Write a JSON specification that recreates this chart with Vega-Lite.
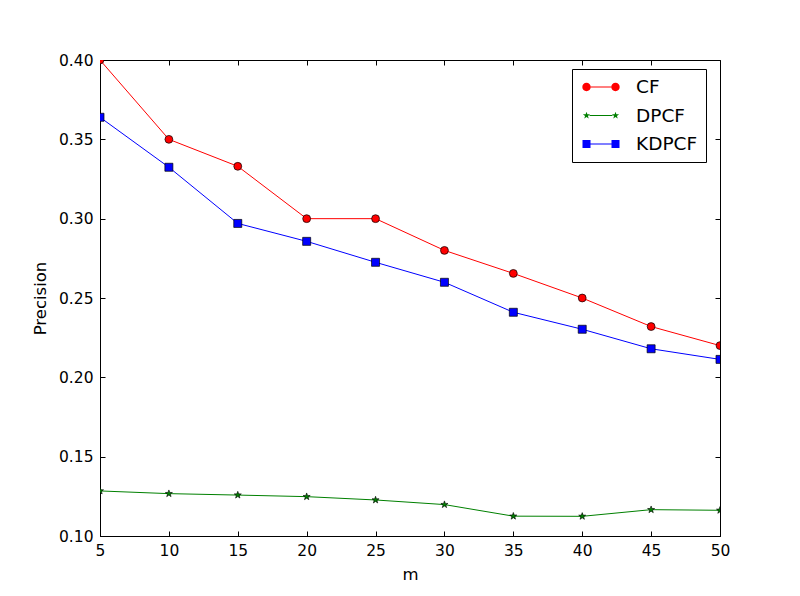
{
  "$schema": "https://vega.github.io/schema/vega-lite/v6.json",
  "autosize": "none",
  "width": 620,
  "height": 476,
  "padding": {"left": 100, "top": 60, "right": 80, "bottom": 60},
  "background": "white",
  "config": {
    "font": "DejaVu Sans",
    "view": {"stroke": "black", "strokeWidth": 1},
    "axis": {
      "grid": false,
      "domainColor": "black",
      "domainWidth": 1,
      "tickColor": "black",
      "tickWidth": 1,
      "tickSize": -5,
      "labelColor": "black",
      "labelFont": "DejaVu Sans",
      "labelFontSize": 15.5,
      "labelFlush": false,
      "labelOverlap": false,
      "titleColor": "black",
      "titleFont": "DejaVu Sans",
      "titleFontSize": 16.5,
      "titleFontWeight": "normal"
    }
  },
  "data": {
    "values": [
      {"series": "CF", "m": 5, "precision": 0.400},
      {"series": "CF", "m": 10, "precision": 0.350},
      {"series": "CF", "m": 15, "precision": 0.333},
      {"series": "CF", "m": 20, "precision": 0.300},
      {"series": "CF", "m": 25, "precision": 0.300},
      {"series": "CF", "m": 30, "precision": 0.280},
      {"series": "CF", "m": 35, "precision": 0.2655},
      {"series": "CF", "m": 40, "precision": 0.250},
      {"series": "CF", "m": 45, "precision": 0.232},
      {"series": "CF", "m": 50, "precision": 0.220},
      {"series": "DPCF", "m": 5, "precision": 0.1284},
      {"series": "DPCF", "m": 10, "precision": 0.1267},
      {"series": "DPCF", "m": 15, "precision": 0.1258},
      {"series": "DPCF", "m": 20, "precision": 0.1248},
      {"series": "DPCF", "m": 25, "precision": 0.1227},
      {"series": "DPCF", "m": 30, "precision": 0.1198},
      {"series": "DPCF", "m": 35, "precision": 0.1125},
      {"series": "DPCF", "m": 40, "precision": 0.1124},
      {"series": "DPCF", "m": 45, "precision": 0.1166},
      {"series": "DPCF", "m": 50, "precision": 0.1162},
      {"series": "KDPCF", "m": 5, "precision": 0.3639},
      {"series": "KDPCF", "m": 10, "precision": 0.3324},
      {"series": "KDPCF", "m": 15, "precision": 0.297},
      {"series": "KDPCF", "m": 20, "precision": 0.2857},
      {"series": "KDPCF", "m": 25, "precision": 0.2725},
      {"series": "KDPCF", "m": 30, "precision": 0.2599},
      {"series": "KDPCF", "m": 35, "precision": 0.241},
      {"series": "KDPCF", "m": 40, "precision": 0.2303},
      {"series": "KDPCF", "m": 45, "precision": 0.218},
      {"series": "KDPCF", "m": 50, "precision": 0.2113}
    ]
  },
  "resolve": {
    "axis": {"x": "independent", "y": "independent"}
  },
  "layer": [
    {
      "transform": [{"filter": "datum.series === 'CF'"}],
      "mark": {"type": "line", "strokeWidth": 1, "stroke": "#ff0000", "clip": true},
      "encoding": {
        "x": {
          "field": "m",
          "type": "quantitative",
          "scale": {"domain": [5, 50], "nice": false, "zero": false},
          "axis": {"title": "m", "values": [5, 10, 15, 20, 25, 30, 35, 40, 45, 50], "labelPadding": 12, "titlePadding": 8}
        },
        "y": {
          "field": "precision",
          "type": "quantitative",
          "scale": {"domain": [0.1, 0.4], "nice": false, "zero": false},
          "axis": {"title": "Precision", "values": [0.1, 0.15, 0.2, 0.25, 0.3, 0.35, 0.4], "format": ".2f", "labelPadding": 12, "titlePadding": 10}
        }
      }
    },
    {
      "transform": [{"filter": "datum.series === 'DPCF'"}],
      "mark": {"type": "line", "strokeWidth": 1, "stroke": "#008000", "clip": true},
      "encoding": {
        "x": {"field": "m", "type": "quantitative", "axis": null},
        "y": {"field": "precision", "type": "quantitative", "axis": null}
      }
    },
    {
      "transform": [{"filter": "datum.series === 'KDPCF'"}],
      "mark": {"type": "line", "strokeWidth": 1, "stroke": "#0000ff", "clip": true},
      "encoding": {
        "x": {"field": "m", "type": "quantitative", "axis": null},
        "y": {"field": "precision", "type": "quantitative", "axis": null}
      }
    },
    {
      "transform": [{"filter": "datum.series === 'CF'"}],
      "mark": {"type": "point", "shape": "circle", "size": 62, "filled": true, "opacity": 1, "fill": "#ff0000", "stroke": "black", "strokeWidth": 0.7, "clip": true},
      "encoding": {
        "x": {"field": "m", "type": "quantitative", "axis": null},
        "y": {"field": "precision", "type": "quantitative", "axis": null}
      }
    },
    {
      "transform": [{"filter": "datum.series === 'DPCF'"}],
      "mark": {"type": "point", "shape": "M0,-1L0.235,-0.324L0.951,-0.309L0.38,0.124L0.588,0.809L0,0.4L-0.588,0.809L-0.38,0.124L-0.951,-0.309L-0.235,-0.324Z", "size": 55, "filled": true, "opacity": 1, "fill": "#008000", "stroke": "black", "strokeWidth": 0.6, "clip": true},
      "encoding": {
        "x": {"field": "m", "type": "quantitative", "axis": null},
        "y": {"field": "precision", "type": "quantitative", "axis": null}
      }
    },
    {
      "transform": [{"filter": "datum.series === 'KDPCF'"}],
      "mark": {"type": "point", "shape": "square", "size": 64, "filled": true, "opacity": 1, "fill": "#0000ff", "stroke": "black", "strokeWidth": 0.7, "clip": true},
      "encoding": {
        "x": {"field": "m", "type": "quantitative", "axis": null},
        "y": {"field": "precision", "type": "quantitative", "axis": null}
      }
    },
    {
      "transform": [{"filter": "datum.m > 1000"}],
      "mark": {"type": "point", "filled": true, "opacity": 1},
      "encoding": {
        "x": {"field": "m", "type": "quantitative", "axis": null},
        "y": {"field": "precision", "type": "quantitative", "axis": null},
        "color": {
          "field": "series",
          "type": "nominal",
          "scale": {"domain": ["CF", "DPCF", "KDPCF"], "range": ["#ff0000", "#008000", "#0000ff"]},
          "legend": {
            "title": null,
            "orient": "none",
            "legendX": 472,
            "legendY": 9,
            "padding": 8,
            "strokeColor": "black",
            "fillColor": "white",
            "cornerRadius": 0,
            "labelFont": "DejaVu Sans",
            "labelFontSize": 18.5,
            "labelColor": "black",
            "symbolSize": 400,
            "symbolOffset": 11,
            "labelOffset": 25,
            "rowPadding": 8.5,
            "symbolOpacity": 1,
            "symbolStrokeWidth": 0
          }
        },
        "shape": {
          "field": "series",
          "type": "nominal",
          "scale": {
            "domain": ["CF", "DPCF", "KDPCF"],
            "range": [
              "M-1.03,-0.05L1.03,-0.05L1.03,0.05L-1.03,0.05ZM-1.03,0A0.42,0.42,0,1,1,-1.87,0A0.42,0.42,0,1,1,-1.03,0ZM1.87,0A0.42,0.42,0,1,1,1.03,0A0.42,0.42,0,1,1,1.87,0Z",
              "M-1.15,-0.05L1.15,-0.05L1.15,0.05L-1.15,0.05ZM-1.45,-0.38L-1.362,-0.121L-1.089,-0.117L-1.307,0.046L-1.227,0.307L-1.45,0.15L-1.673,0.307L-1.593,0.046L-1.811,-0.117L-1.538,-0.121ZM1.45,-0.38L1.538,-0.121L1.811,-0.117L1.593,0.046L1.673,0.307L1.45,0.15L1.227,0.307L1.307,0.046L1.089,-0.117L1.362,-0.121Z",
              "M-1.05,-0.05L1.05,-0.05L1.05,0.05L-1.05,0.05ZM-1.85,-0.4L-1.05,-0.4L-1.05,0.4L-1.85,0.4ZM1.05,-0.4L1.85,-0.4L1.85,0.4L1.05,0.4Z"
            ]
          },
          "legend": {
            "title": null,
            "orient": "none",
            "legendX": 472,
            "legendY": 9,
            "padding": 8,
            "strokeColor": "black",
            "fillColor": "white",
            "cornerRadius": 0,
            "labelFont": "DejaVu Sans",
            "labelFontSize": 18.5,
            "labelColor": "black",
            "symbolSize": 400,
            "symbolOffset": 11,
            "labelOffset": 25,
            "rowPadding": 8.5,
            "symbolOpacity": 1,
            "symbolStrokeWidth": 0
          }
        }
      }
    },
    {
      "mark": {"type": "point", "opacity": 0},
      "encoding": {
        "x": {
          "field": "m",
          "type": "quantitative",
          "axis": {"orient": "top", "labels": false, "domain": false, "title": null, "values": [5, 10, 15, 20, 25, 30, 35, 40, 45, 50]}
        },
        "y": {
          "field": "precision",
          "type": "quantitative",
          "axis": {"orient": "right", "labels": false, "domain": false, "title": null, "values": [0.1, 0.15, 0.2, 0.25, 0.3, 0.35, 0.4]}
        }
      }
    }
  ]
}
